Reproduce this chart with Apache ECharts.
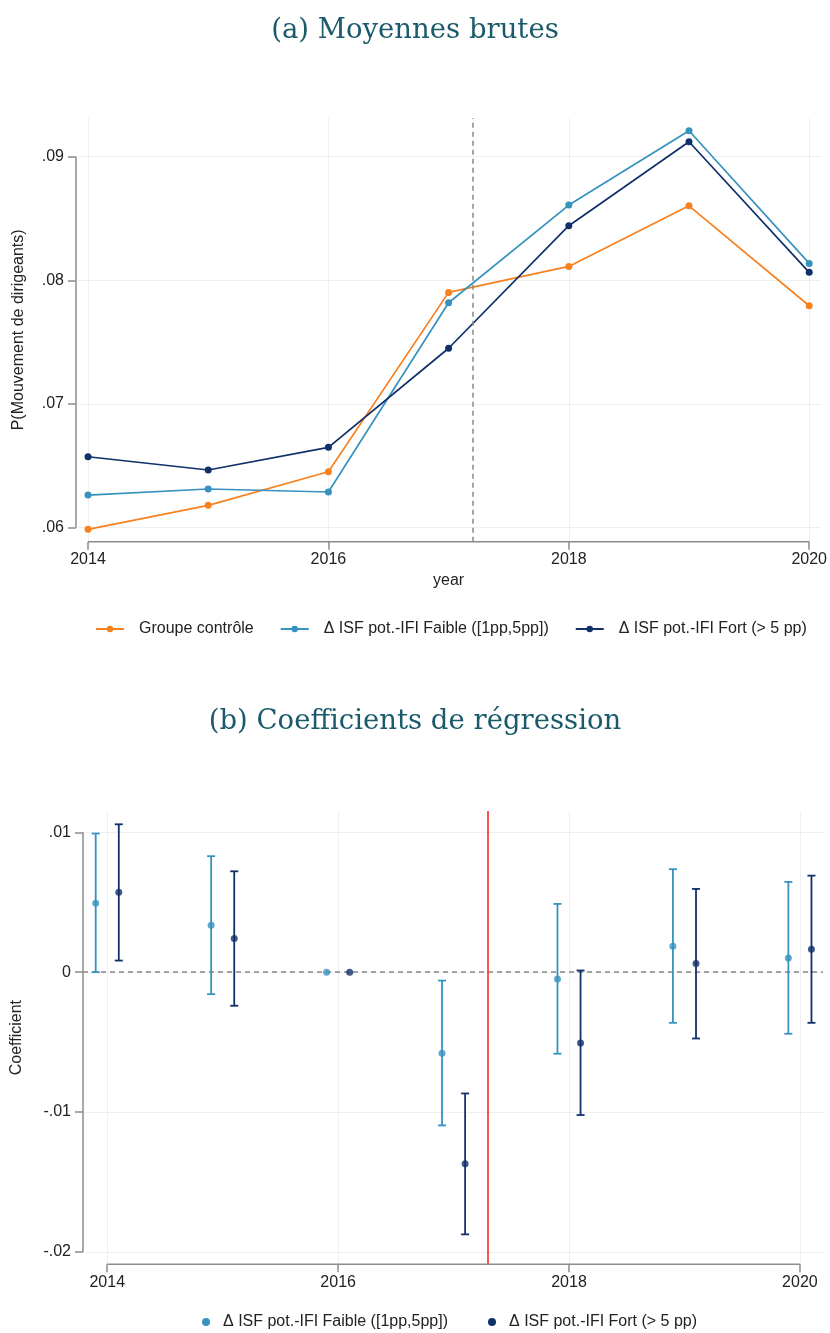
<!DOCTYPE html>
<html><head><meta charset="utf-8">
<script src="https://cdn.jsdelivr.net/npm/echarts@6/dist/echarts.min.js"></script>
<style>html,body{margin:0;padding:0;background:#fff}#c{width:830px;height:1333px}</style>
</head><body><div id="c"></div>
<script>
// ---------- data ----------
const years = [2014, 2015, 2016, 2017, 2018, 2019, 2020];
const controle = [0.05987, 0.06181, 0.06453, 0.07903, 0.08113, 0.08603, 0.07795];
const faible   = [0.06264, 0.06313, 0.06289, 0.07819, 0.08609, 0.09210, 0.08137];
const fort     = [0.06574, 0.06467, 0.06650, 0.07451, 0.08442, 0.09121, 0.08065];
const xTicks = [2014, 2016, 2018, 2020];
const yTicksA = [0.06, 0.07, 0.08, 0.09];
const reformA = 2017.2;

const coefFaible = [0.00493, 0.00336, 0, -0.00579, -0.00048, 0.00186, 0.00102];
const loFaible   = [0.00000, -0.00157, 0, -0.01095, -0.00583, -0.00362, -0.00440];
const hiFaible   = [0.00991, 0.00829, 0, -0.00060, 0.00488, 0.00736, 0.00645];
const coefFort   = [0.00571, 0.00240, 0, -0.01369, -0.00507, 0.00062, 0.00164];
const loFort     = [0.00083, -0.00240, 0, -0.01874, -0.01021, -0.00474, -0.00362];
const hiFort     = [0.01057, 0.00721, 0, -0.00867, 0.00012, 0.00595, 0.00690];
const yTicksB = [-0.02, -0.01, 0, 0.01];
const reformB = 2017.3;

const names = ['Groupe contrôle', 'Δ ISF pot.-IFI Faible ([1pp,5pp])', 'Δ ISF pot.-IFI Fort (> 5 pp)'];
const titles = ['(a) Moyennes brutes', '(b) Coefficients de régression'];

// ---------- style ----------
const C_OR = '#f7811f', C_LB = '#3692be', C_NV = '#10306a';
const AX = '#8c8c8c', GRID = '#efefef', TXT = '#222';
const SANS = '"Liberation Sans", Arial, sans-serif';
const SERIF = '"DejaVu Serif", serif';
const fmtY = v => (v === 0 ? '0' : String(+v.toFixed(2)).replace('0.', '.'));

const xMinA = 2013.9, xMaxA = 2020.1, yMinA = 0.05887, yMaxA = 0.09313;
const xMinB = 2013.79, xMaxB = 2020.2, yMinB = -0.02088, yMaxB = 0.01152;
const OFF = 0.1;

function xAxisCfg(gi, min, max, name, gap) {
  return {
    gridIndex: gi, type: 'value', min, max,
    axisLine: { show: false, onZero: false },
    axisTick: { show: true, customValues: xTicks, length: 8, lineStyle: { color: AX, width: 1.5 } },
    axisLabel: { customValues: xTicks, margin: 10, fontSize: 16, color: TXT, fontFamily: SANS, formatter: v => String(v) },
    splitLine: { show: true, lineStyle: { color: GRID, width: 1 } },
    name, nameLocation: 'middle', nameGap: gap,
    nameTextStyle: { fontSize: 16, color: TXT, fontFamily: SANS }
  };
}
function yAxisCfg(gi, min, max, ticks, name, gap) {
  return {
    gridIndex: gi, type: 'value', min, max,
    axisLine: { show: false },
    axisTick: { show: true, customValues: ticks, length: 8, lineStyle: { color: AX, width: 1.5 } },
    axisLabel: { customValues: ticks, margin: 12, fontSize: 16, color: TXT, fontFamily: SANS, formatter: fmtY },
    splitLine: { show: true, lineStyle: { color: GRID, width: 1 } },
    name, nameLocation: 'middle', nameGap: gap,
    nameTextStyle: { fontSize: 16, color: TXT, fontFamily: SANS }
  };
}
function axisSeg(xi, pts) {
  return { type: 'line', xAxisIndex: xi, yAxisIndex: xi, data: pts, symbol: 'none', clip: false, silent: true,
    lineStyle: { color: AX, width: 1.5 }, z: 1, animation: false };
}
function lineSeries(name, vals, color) {
  return { name, type: 'line', xAxisIndex: 0, yAxisIndex: 0,
    data: years.map((y, i) => [y, vals[i]]),
    symbol: 'circle', symbolSize: 7, showSymbol: true, clip: false,
    itemStyle: { color }, lineStyle: { color, width: 1.7 }, z: 3 };
}
function errBar(color) {
  return function (params, api) {
    const x = api.value(0), lo = api.value(1), hi = api.value(2);
    if (lo === hi) return null;
    const p1 = api.coord([x, hi]), p2 = api.coord([x, lo]);
    const w = 4, style = { stroke: color, lineWidth: 1.8 };
    return { type: 'group', children: [
      { type: 'line', shape: { x1: p1[0], y1: p1[1], x2: p2[0], y2: p2[1] }, style },
      { type: 'line', shape: { x1: p1[0] - w, y1: p1[1], x2: p1[0] + w, y2: p1[1] }, style },
      { type: 'line', shape: { x1: p2[0] - w, y1: p2[1], x2: p2[0] + w, y2: p2[1] }, style }
    ] };
  };
}

const option = {
  animation: false,
  backgroundColor: '#fff',
  title: [
    { text: titles[0], left: 'center', top: 12, textStyle: { fontFamily: SERIF, fontSize: 27.5, fontWeight: 'normal', color: '#1b5a6b' } },
    { text: titles[1], left: 'center', top: 703, textStyle: { fontFamily: SERIF, fontSize: 27.5, fontWeight: 'normal', color: '#1b5a6b' } }
  ],
  legend: [
    { data: [names[0], names[1], names[2]], left: 90, top: 616, itemWidth: 28, itemHeight: 8, itemGap: 26,
      textStyle: { fontSize: 16, color: TXT, fontFamily: SANS, padding: [0, 0, 0, 10] } },
    { data: [names[1], names[2]], left: 197, top: 1309, icon: 'circle', itemWidth: 8, itemHeight: 8, itemGap: 40,
      textStyle: { fontSize: 16, color: TXT, fontFamily: SANS, padding: [0, 0, 0, 8] } }
  ],
  grid: [
    { left: 76, top: 118, width: 747, height: 423.7 },
    { left: 83, top: 811, width: 740, height: 453.3 }
  ],
  xAxis: [ xAxisCfg(0, xMinA, xMaxA, 'year', 31), xAxisCfg(1, xMinB, xMaxB, '', 30) ],
  yAxis: [ yAxisCfg(0, yMinA, yMaxA, yTicksA, 'P(Mouvement de dirigeants)', 49),
           yAxisCfg(1, yMinB, yMaxB, yTicksB, 'Coefficient', 58) ],
  series: [
    axisSeg(0, [[xMinA, yTicksA[0]], [xMinA, yTicksA[yTicksA.length - 1]]]),
    axisSeg(0, [[xTicks[0], yMinA], [xTicks[xTicks.length - 1], yMinA]]),
    axisSeg(1, [[xMinB, yTicksB[0]], [xMinB, yTicksB[yTicksB.length - 1]]]),
    axisSeg(1, [[xTicks[0], yMinB], [xTicks[xTicks.length - 1], yMinB]]),
    Object.assign(lineSeries(names[0], controle, C_OR), {
      markLine: { silent: true, symbol: 'none', label: { show: false },
        lineStyle: { color: '#888', type: [5, 4], width: 1.5 }, data: [{ xAxis: reformA }] }
    }),
    lineSeries(names[1], faible, C_LB),
    lineSeries(names[2], fort, C_NV),
    { type: 'custom', xAxisIndex: 1, yAxisIndex: 1, renderItem: errBar(C_LB), clip: false,
      encode: { x: 0, y: [1, 2] }, data: years.map((y, i) => [y - OFF, loFaible[i], hiFaible[i]]), z: 2 },
    { type: 'custom', xAxisIndex: 1, yAxisIndex: 1, renderItem: errBar(C_NV), clip: false,
      encode: { x: 0, y: [1, 2] }, data: years.map((y, i) => [y + OFF, loFort[i], hiFort[i]]), z: 2 },
    { name: names[1], type: 'scatter', xAxisIndex: 1, yAxisIndex: 1, symbolSize: 7, itemStyle: { color: C_LB }, z: 4,
      data: years.map((y, i) => [y - OFF, coefFaible[i]]),
      markLine: { silent: true, symbol: 'none', label: { show: false }, z: 1,
        data: [
          { yAxis: 0, lineStyle: { color: '#888', type: [5, 4], width: 1.5 } },
          { xAxis: reformB, lineStyle: { color: '#ff1a1a', type: 'solid', width: 1.5 } }
        ] } },
    { name: names[2], type: 'scatter', xAxisIndex: 1, yAxisIndex: 1, symbolSize: 7, itemStyle: { color: C_NV }, z: 4,
      data: years.map((y, i) => [y + OFF, coefFort[i]]) }
  ]
};
const chart = echarts.init(document.getElementById('c'), null, { renderer: 'canvas' });
chart.setOption(option);
</script>
</body></html>
